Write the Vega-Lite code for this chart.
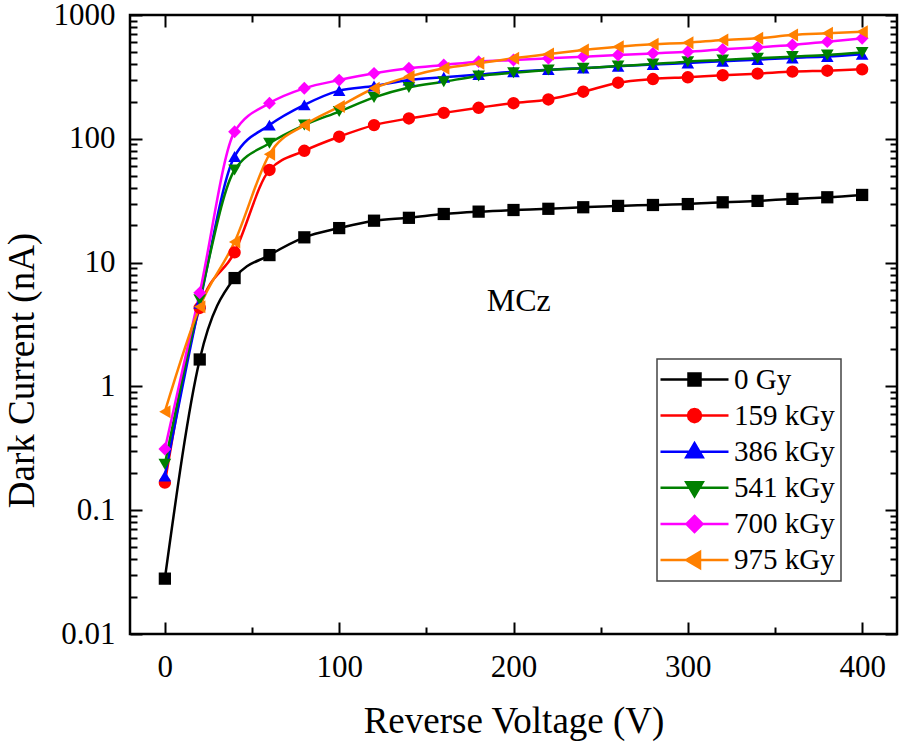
{
  "$schema": "https://vega.github.io/schema/vega-lite/v6.json",
  "width": 767,
  "height": 619,
  "autosize": "none",
  "padding": {"left": 130, "top": 15, "right": 4, "bottom": 109},
  "background": "white",
  "config": {
    "font": "Liberation Serif",
    "view": {"stroke": "black", "strokeWidth": 2.5},
    "axis": {"domain": false, "grid": false, "tickColor": "black", "tickWidth": 2, "labelColor": "black", "titleColor": "black"},
    "legend": {
      "orient": "none", "legendX": 527, "legendY": 344, "title": null,
      "labelFont": "Liberation Serif", "labelFontSize": 29, "labelColor": "black",
      "symbolSize": 100, "symbolStrokeWidth": 2.5, "symbolOpacity": 1, "labelOffset": 42, "rowPadding": 6.1,
      "padding": 6, "strokeColor": "#444444", "fillColor": "white"
    }
  },
  "datasets": {
    "iv": [
      {"V": 0, "I": 0.028, "s": "0 Gy"}, {"V": 20, "I": 1.65, "s": "0 Gy"}, {"V": 40, "I": 7.5, "s": "0 Gy"},
      {"V": 60, "I": 11.5, "s": "0 Gy"}, {"V": 80, "I": 16, "s": "0 Gy"}, {"V": 100, "I": 19, "s": "0 Gy"},
      {"V": 120, "I": 21.8, "s": "0 Gy"}, {"V": 140, "I": 23, "s": "0 Gy"}, {"V": 160, "I": 24.7, "s": "0 Gy"},
      {"V": 180, "I": 25.8, "s": "0 Gy"}, {"V": 200, "I": 26.6, "s": "0 Gy"}, {"V": 220, "I": 27.2, "s": "0 Gy"},
      {"V": 240, "I": 28, "s": "0 Gy"}, {"V": 260, "I": 28.7, "s": "0 Gy"}, {"V": 280, "I": 29.2, "s": "0 Gy"},
      {"V": 300, "I": 29.7, "s": "0 Gy"}, {"V": 320, "I": 30.7, "s": "0 Gy"}, {"V": 340, "I": 31.5, "s": "0 Gy"},
      {"V": 360, "I": 32.7, "s": "0 Gy"}, {"V": 380, "I": 33.7, "s": "0 Gy"}, {"V": 400, "I": 35.2, "s": "0 Gy"},

      {"V": 0, "I": 0.167, "s": "159 kGy"}, {"V": 20, "I": 4.3, "s": "159 kGy"}, {"V": 40, "I": 12.1, "s": "159 kGy"},
      {"V": 60, "I": 56, "s": "159 kGy"}, {"V": 80, "I": 80, "s": "159 kGy"}, {"V": 100, "I": 104, "s": "159 kGy"},
      {"V": 120, "I": 129, "s": "159 kGy"}, {"V": 140, "I": 146, "s": "159 kGy"}, {"V": 160, "I": 162, "s": "159 kGy"},
      {"V": 180, "I": 178, "s": "159 kGy"}, {"V": 200, "I": 194, "s": "159 kGy"}, {"V": 220, "I": 208, "s": "159 kGy"},
      {"V": 240, "I": 240, "s": "159 kGy"}, {"V": 260, "I": 284, "s": "159 kGy"}, {"V": 280, "I": 304, "s": "159 kGy"},
      {"V": 300, "I": 314, "s": "159 kGy"}, {"V": 320, "I": 326, "s": "159 kGy"}, {"V": 340, "I": 336, "s": "159 kGy"},
      {"V": 360, "I": 349, "s": "159 kGy"}, {"V": 380, "I": 355, "s": "159 kGy"}, {"V": 400, "I": 364, "s": "159 kGy"},

      {"V": 0, "I": 0.189, "s": "386 kGy"}, {"V": 20, "I": 4.7, "s": "386 kGy"}, {"V": 40, "I": 72, "s": "386 kGy"},
      {"V": 60, "I": 129, "s": "386 kGy"}, {"V": 80, "I": 188, "s": "386 kGy"}, {"V": 100, "I": 245, "s": "386 kGy"},
      {"V": 120, "I": 267, "s": "386 kGy"}, {"V": 140, "I": 298, "s": "386 kGy"}, {"V": 160, "I": 314, "s": "386 kGy"},
      {"V": 180, "I": 330, "s": "386 kGy"}, {"V": 200, "I": 348, "s": "386 kGy"}, {"V": 220, "I": 362, "s": "386 kGy"},
      {"V": 240, "I": 372, "s": "386 kGy"}, {"V": 260, "I": 385, "s": "386 kGy"}, {"V": 280, "I": 398, "s": "386 kGy"},
      {"V": 300, "I": 410, "s": "386 kGy"}, {"V": 320, "I": 423, "s": "386 kGy"}, {"V": 340, "I": 436, "s": "386 kGy"},
      {"V": 360, "I": 450, "s": "386 kGy"}, {"V": 380, "I": 462, "s": "386 kGy"}, {"V": 400, "I": 482, "s": "386 kGy"},

      {"V": 0, "I": 0.235, "s": "541 kGy"}, {"V": 20, "I": 5.0, "s": "541 kGy"}, {"V": 40, "I": 56, "s": "541 kGy"},
      {"V": 60, "I": 92, "s": "541 kGy"}, {"V": 80, "I": 129, "s": "541 kGy"}, {"V": 100, "I": 166, "s": "541 kGy"},
      {"V": 120, "I": 216, "s": "541 kGy"}, {"V": 140, "I": 260, "s": "541 kGy"}, {"V": 160, "I": 289, "s": "541 kGy"},
      {"V": 180, "I": 322, "s": "541 kGy"}, {"V": 200, "I": 342, "s": "541 kGy"}, {"V": 220, "I": 360, "s": "541 kGy"},
      {"V": 240, "I": 371, "s": "541 kGy"}, {"V": 260, "I": 387, "s": "541 kGy"}, {"V": 280, "I": 402, "s": "541 kGy"},
      {"V": 300, "I": 420, "s": "541 kGy"}, {"V": 320, "I": 433, "s": "541 kGy"}, {"V": 340, "I": 447, "s": "541 kGy"},
      {"V": 360, "I": 461, "s": "541 kGy"}, {"V": 380, "I": 475, "s": "541 kGy"}, {"V": 400, "I": 497, "s": "541 kGy"},

      {"V": 0, "I": 0.312, "s": "700 kGy"}, {"V": 20, "I": 5.7, "s": "700 kGy"}, {"V": 40, "I": 114, "s": "700 kGy"},
      {"V": 60, "I": 194, "s": "700 kGy"}, {"V": 80, "I": 256, "s": "700 kGy"}, {"V": 100, "I": 298, "s": "700 kGy"},
      {"V": 120, "I": 338, "s": "700 kGy"}, {"V": 140, "I": 371, "s": "700 kGy"}, {"V": 160, "I": 395, "s": "700 kGy"},
      {"V": 180, "I": 420, "s": "700 kGy"}, {"V": 200, "I": 433, "s": "700 kGy"}, {"V": 220, "I": 447, "s": "700 kGy"},
      {"V": 240, "I": 461, "s": "700 kGy"}, {"V": 260, "I": 475, "s": "700 kGy"}, {"V": 280, "I": 490, "s": "700 kGy"},
      {"V": 300, "I": 505, "s": "700 kGy"}, {"V": 320, "I": 528, "s": "700 kGy"}, {"V": 340, "I": 548, "s": "700 kGy"},
      {"V": 360, "I": 572, "s": "700 kGy"}, {"V": 380, "I": 609, "s": "700 kGy"}, {"V": 400, "I": 648, "s": "700 kGy"},

      {"V": 0, "I": 0.625, "s": "975 kGy"}, {"V": 20, "I": 4.4, "s": "975 kGy"}, {"V": 40, "I": 14.7, "s": "975 kGy"},
      {"V": 60, "I": 75, "s": "975 kGy"}, {"V": 80, "I": 129, "s": "975 kGy"}, {"V": 100, "I": 182, "s": "975 kGy"},
      {"V": 120, "I": 256, "s": "975 kGy"}, {"V": 140, "I": 318, "s": "975 kGy"}, {"V": 160, "I": 371, "s": "975 kGy"},
      {"V": 180, "I": 407, "s": "975 kGy"}, {"V": 200, "I": 447, "s": "975 kGy"}, {"V": 220, "I": 484, "s": "975 kGy"},
      {"V": 240, "I": 521, "s": "975 kGy"}, {"V": 260, "I": 554, "s": "975 kGy"}, {"V": 280, "I": 580, "s": "975 kGy"},
      {"V": 300, "I": 597, "s": "975 kGy"}, {"V": 320, "I": 628, "s": "975 kGy"}, {"V": 340, "I": 648, "s": "975 kGy"},
      {"V": 360, "I": 689, "s": "975 kGy"}, {"V": 380, "I": 711, "s": "975 kGy"}, {"V": 400, "I": 733, "s": "975 kGy"}
    ],
    "note": [{"V": 203, "I": 4.9, "label": "MCz"}]
  },
  "resolve": {"axis": {"x": "independent", "y": "independent"}},
  "layer": [
    {
      "data": {"name": "iv"},
      "mark": {"type": "line", "interpolate": "monotone", "strokeWidth": 2.5},
      "encoding": {
        "x": {
          "field": "V", "type": "quantitative",
          "scale": {"domain": [-20, 420], "nice": false, "zero": false},
          "axis": {
            "orient": "bottom", "title": "Reverse Voltage (V)", "values": [0, 100, 200, 300, 400],
            "tickSize": -12, "labelPadding": 30, "labelFontSize": 31, "labelFlush": false,
            "titleFontSize": 37, "titleFontWeight": "normal", "titleBaseline": "alphabetic", "titleY": 98
          }
        },
        "y": {
          "field": "I", "type": "quantitative",
          "scale": {"type": "log", "domain": [0.01, 1000], "nice": false},
          "axis": {
            "orient": "left", "title": "Dark Current (nA)", "values": [0.01, 0.1, 1, 10, 100, 1000],
            "format": "~g", "tickSize": -12, "labelPadding": 27, "labelFontSize": 31, "labelFlush": false,
            "titleFontSize": 37, "titleFontWeight": "normal", "titleBaseline": "alphabetic",
            "titleX": -97, "titleY": 355, "titleAngle": -90, "titleAlign": "center", "titleAnchor": null
          }
        },
        "color": {
          "field": "s", "type": "nominal",
          "scale": {
            "domain": ["0 Gy", "159 kGy", "386 kGy", "541 kGy", "700 kGy", "975 kGy"],
            "range": ["#000000", "#ff0000", "#0000ff", "#008000", "#ff00ff", "#ff8000"]
          },
          "legend": {
            "encode": {
              "legend": {"update": {"strokeWidth": {"value": 1.5}}},
              "symbols": {
                "update": {
                  "shape": {"signal": "['M-3.4,0H10.2M2.2,-1.2H4.6V1.2H2.2Z', 'M-3.4,0H10.2M4.7,0L4.53,0.65L4.05,1.13L3.4,1.3L2.75,1.13L2.27,0.65L2.1,0L2.27,-0.65L2.75,-1.13L3.4,-1.3L4.05,-1.13L4.53,-0.65Z', 'M-3.4,0H10.2M3.4,-1.7L5.05,1.1L1.75,1.1Z', 'M-3.4,0H10.2M3.4,1.7L5.05,-1.1L1.75,-1.1Z', 'M-3.4,0H10.2M3.4,-1.6L5,0L3.4,1.6L1.8,0Z', 'M-3.4,0H10.2M1.75,0L4.5,-1.6L4.5,1.6Z'][indexof(['0 Gy', '159 kGy', '386 kGy', '541 kGy', '700 kGy', '975 kGy'], datum.value)]"},
                  "size": {"value": 100},
                  "fill": {"signal": "scale('color', datum.value)"},
                  "stroke": {"signal": "scale('color', datum.value)"},
                  "opacity": {"value": 1},
                  "fillOpacity": {"value": 1},
                  "strokeWidth": {"value": 2.5}
                }
              }
            }
          }
        }
      }
    },
    {
      "data": {"name": "iv"},
      "mark": {"type": "point", "filled": true, "opacity": 1},
      "encoding": {
        "x": {
          "field": "V", "type": "quantitative",
          "axis": {"orient": "bottom", "title": null, "labels": false, "values": [50, 150, 250, 350], "tickSize": -7}
        },
        "y": {
          "field": "I", "type": "quantitative",
          "axis": {
            "orient": "left", "title": null, "labels": false, "tickSize": -7,
            "values": [0.02, 0.03, 0.04, 0.05, 0.06, 0.07, 0.08, 0.09, 0.2, 0.3, 0.4, 0.5, 0.6, 0.7, 0.8, 0.9, 2, 3, 4, 5, 6, 7, 8, 9, 20, 30, 40, 50, 60, 70, 80, 90, 200, 300, 400, 500, 600, 700, 800, 900]
          }
        },
        "color": {"field": "s", "type": "nominal"},
        "shape": {
          "field": "s", "type": "nominal", "legend": null,
          "scale": {"range": ["square", "circle", "triangle-up", "triangle-down", "diamond", "triangle-left"]}
        },
        "size": {
          "field": "s", "type": "nominal", "legend": null,
          "scale": {"range": [150, 170, 200, 200, 190, 200]}
        }
      }
    },
    {
      "data": {"name": "note"},
      "mark": {"type": "text", "fontSize": 32, "font": "Liberation Serif", "color": "black", "align": "center", "baseline": "middle"},
      "encoding": {
        "x": {
          "field": "V", "type": "quantitative",
          "axis": {"orient": "top", "title": null, "labels": false, "values": [0, 100, 200, 300, 400], "tickSize": -12}
        },
        "y": {
          "field": "I", "type": "quantitative",
          "axis": {"orient": "right", "title": null, "labels": false, "values": [0.01, 0.1, 1, 10, 100, 1000], "tickSize": -12}
        },
        "text": {"field": "label"}
      }
    },
    {
      "data": {"name": "note"},
      "mark": {"type": "point", "opacity": 0},
      "encoding": {
        "x": {
          "field": "V", "type": "quantitative",
          "axis": {"orient": "top", "title": null, "labels": false, "values": [50, 150, 250, 350], "tickSize": -7}
        },
        "y": {
          "field": "I", "type": "quantitative",
          "axis": {
            "orient": "right", "title": null, "labels": false, "tickSize": -7,
            "values": [0.02, 0.03, 0.04, 0.05, 0.06, 0.07, 0.08, 0.09, 0.2, 0.3, 0.4, 0.5, 0.6, 0.7, 0.8, 0.9, 2, 3, 4, 5, 6, 7, 8, 9, 20, 30, 40, 50, 60, 70, 80, 90, 200, 300, 400, 500, 600, 700, 800, 900]
          }
        }
      }
    }
  ]
}
